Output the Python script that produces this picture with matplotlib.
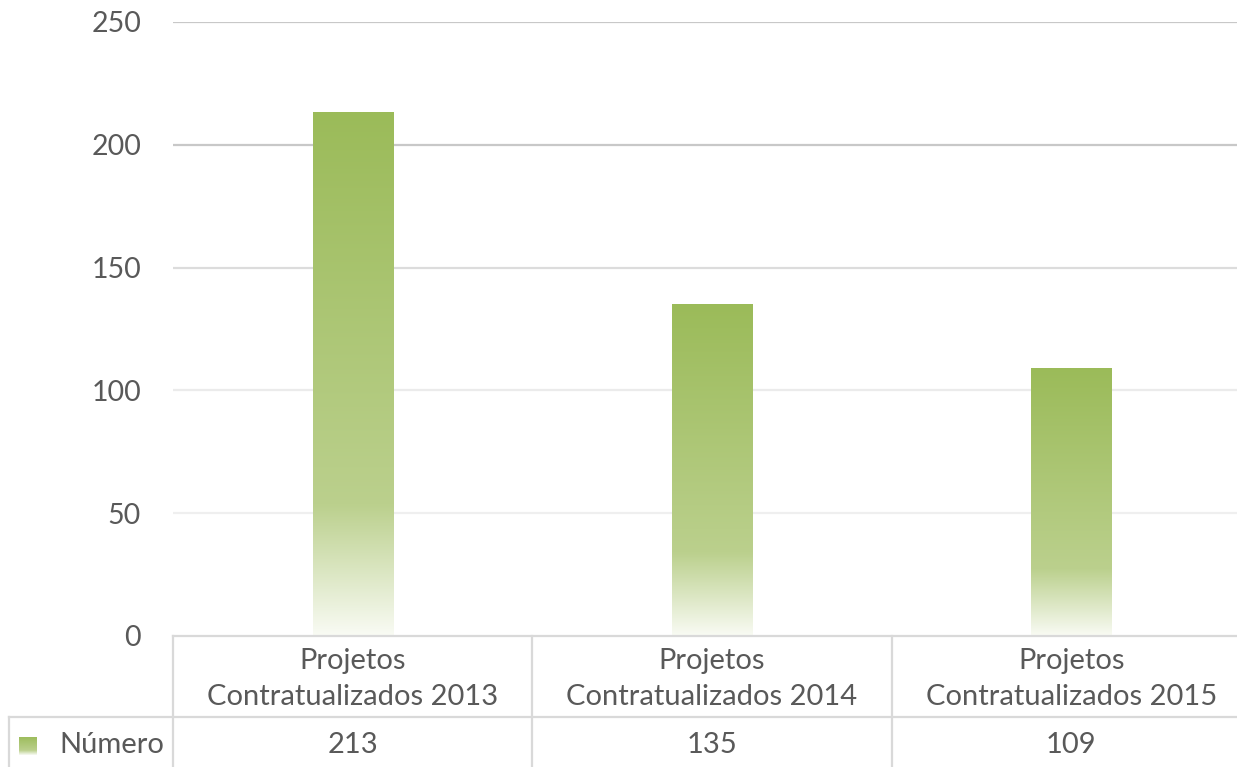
import matplotlib
matplotlib.use("Agg")
import matplotlib.pyplot as plt
import numpy as np
from matplotlib.colors import LinearSegmentedColormap
from matplotlib.lines import Line2D

categories = ["Projetos\nContratualizados 2013", "Projetos\nContratualizados 2014", "Projetos\nContratualizados 2015"]
values = [213, 135, 109]
series_name = "Número"
yticks = [0, 50, 100, 150, 200, 250]

W, H = 1237, 767
fig = plt.figure(figsize=(W / 100, H / 100), dpi=100)
plt.rcParams['font.family'] = ['Lato', 'DejaVu Sans']
txt = '#595959'
border = '#D9D9D9'
fs = 21

left_px, right_px, top_px, bot_px = 173, 1251, 22, 636
ax = fig.add_axes([left_px / W, 1 - bot_px / H, (right_px - left_px) / W, (bot_px - top_px) / H])
ax.set_xlim(-0.5, len(categories) - 0.5)
ax.set_ylim(0, 250)
for s in ax.spines.values():
    s.set_visible(False)
ax.set_xticks([])
ax.set_yticks(yticks)
ax.set_yticklabels([str(t) for t in yticks], color=txt, fontsize=20.5)
ax.tick_params(axis='y', length=0, pad=23)

grid_colors = {250: '#C8C8C8', 200: '#C8C8C8', 150: '#DCDCDC', 100: '#EBEBEB', 50: '#EFEFEF'}
for t in yticks[1:]:
    ax.axhline(t, color=grid_colors[t], lw=1.6, zorder=0)

cmap = LinearSegmentedColormap.from_list('g', [(0, '#F9FBF4'), (0.25, '#BBD08D'), (1, '#9BBB59')])
grad = np.linspace(0, 1, 256).reshape(-1, 1)
bw = 0.223
for i, v in enumerate(values):
    ax.imshow(grad, cmap=cmap, origin='lower', aspect='auto',
              extent=(i - bw / 2, i + bw / 2, 0, v), zorder=2, interpolation='bilinear')
ax.set_xlim(-0.5, len(categories) - 0.5)
ax.set_ylim(0, 250)

# data table
def fy(py):
    return 1 - py / H

def fx(px):
    return px / W

row1 = 717
lines = [
    ((left_px, right_px), (bot_px, bot_px)),
    ((9, right_px), (row1, row1)),
    ((9, 9), (row1, H)),
]
n = len(categories)
cw = (right_px - left_px) / n
for k in range(n + 1):
    x = left_px + k * cw
    lines.append(((x, x), (bot_px, H)))
for (xs, ys) in lines:
    fig.add_artist(Line2D([fx(xs[0]), fx(xs[1])], [fy(ys[0]), fy(ys[1])],
                          transform=fig.transFigure, color=border, lw=1.6))

for k, (c, v) in enumerate(zip(categories, values)):
    cx = left_px + (k + 0.5) * cw
    fig.text(fx(cx), fy(679), c, ha='center', va='center', color=txt, fontsize=fs,
             linespacing=1.5)
    fig.text(fx(cx), fy(745), str(v), ha='center', va='center', color=txt, fontsize=fs)

fig.text(fx(59), fy(745), series_name, ha='left', va='center', color=txt, fontsize=fs)
lax = fig.add_axes([fx(19), fy(755), fx(37) - fx(19), fy(737) - fy(755)])
lax.imshow(grad, cmap=cmap, origin='lower', aspect='auto', extent=(0, 1, 0, 1))
lax.set_axis_off()

fig.savefig('out.png', dpi=100)
